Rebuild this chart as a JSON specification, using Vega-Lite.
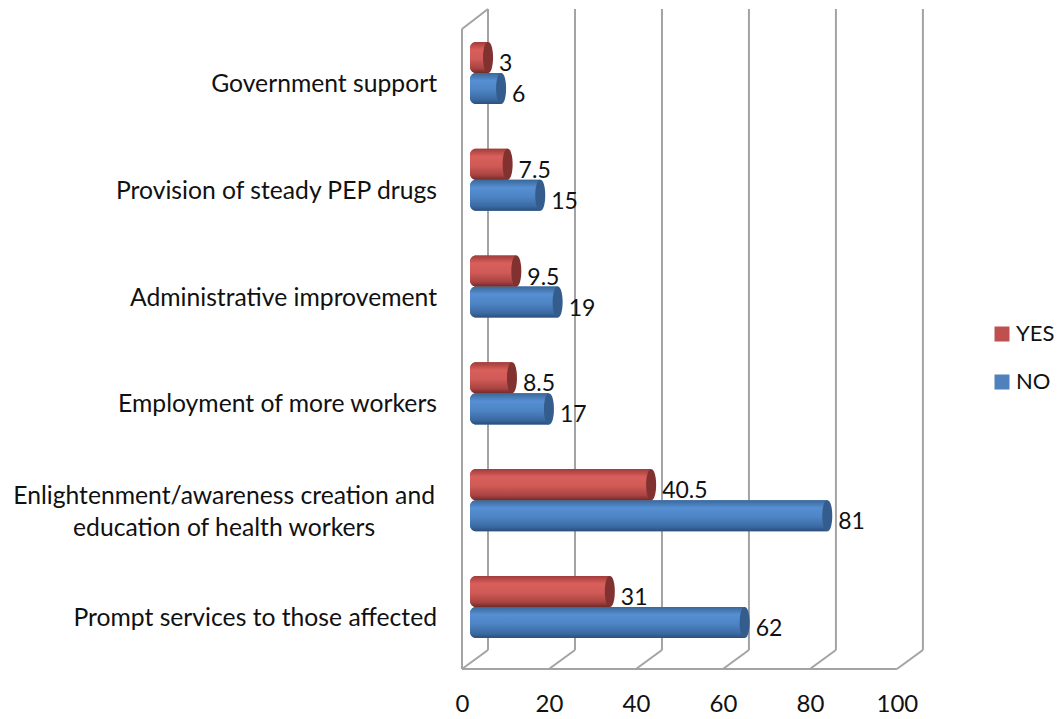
{
  "$schema": "https://vega.github.io/schema/vega-lite/v6.json",
  "width": 461,
  "height": 660,
  "autosize": "none",
  "padding": {"left": 462, "top": 9, "right": 136, "bottom": 50},
  "background": "white",
  "config": {"view": {"stroke": null}, "font": "Lato", "text": {"font": "Lato"}},
  "datasets": {
    "answers": [
      {"category": "Government support", "series": "YES", "value": 3},
      {"category": "Government support", "series": "NO", "value": 6},
      {"category": "Provision of steady PEP drugs", "series": "YES", "value": 7.5},
      {"category": "Provision of steady PEP drugs", "series": "NO", "value": 15},
      {"category": "Administrative improvement", "series": "YES", "value": 9.5},
      {"category": "Administrative improvement", "series": "NO", "value": 19},
      {"category": "Employment of more workers", "series": "YES", "value": 8.5},
      {"category": "Employment of more workers", "series": "NO", "value": 17},
      {"category": "Enlightenment", "series": "YES", "value": 40.5},
      {"category": "Enlightenment", "series": "NO", "value": 81},
      {"category": "Prompt services to those affected", "series": "YES", "value": 31},
      {"category": "Prompt services to those affected", "series": "NO", "value": 62}
    ],
    "frame": [
      {"a": 0, "b": 0, "a2": 100, "b2": 0},
      {"a": 0, "b": 0, "a2": 0, "b2": 640},
      {"a": 0, "b": 640, "a2": 5.98, "b2": 660},
      {"a": 0, "b": 0, "a2": 5.98, "b2": 19},
      {"a": 20, "b": 0, "a2": 25.98, "b2": 19},
      {"a": 40, "b": 0, "a2": 45.98, "b2": 19},
      {"a": 60, "b": 0, "a2": 65.98, "b2": 19},
      {"a": 80, "b": 0, "a2": 85.98, "b2": 19},
      {"a": 100, "b": 0, "a2": 105.98, "b2": 19},
      {"a": 5.98, "b": 19, "a2": 5.98, "b2": 660},
      {"a": 25.98, "b": 19, "a2": 25.98, "b2": 660},
      {"a": 45.98, "b": 19, "a2": 45.98, "b2": 660},
      {"a": 65.98, "b": 19, "a2": 65.98, "b2": 660},
      {"a": 85.98, "b": 19, "a2": 85.98, "b2": 660},
      {"a": 105.98, "b": 19, "a2": 105.98, "b2": 660}
    ],
    "singleLine": [
      {"category": "Government support", "pos": -5.75},
      {"category": "Provision of steady PEP drugs", "pos": -5.75},
      {"category": "Administrative improvement", "pos": -5.75},
      {"category": "Employment of more workers", "pos": -5.75},
      {"category": "Prompt services to those affected", "pos": -5.75}
    ],
    "twoLine": [
      {"category": "Enlightenment", "text": "Enlightenment/awareness creation and|education of health workers", "pos": -54.7}
    ]
  },
  "layer": [
    {
      "description": "Walls and floor of the 3D box, with the value axis along the front edge",
      "data": {"name": "frame"},
      "mark": {"type": "rule", "color": "#a3a3a3", "strokeWidth": 2},
      "encoding": {
        "x": {
          "field": "a", "type": "quantitative",
          "scale": {"domain": [0, 106], "nice": false, "zero": false},
          "axis": {"values": [0, 20, 40, 60, 80, 100], "title": null, "grid": false, "domain": false, "ticks": false, "labelFontSize": 24, "labelColor": "#111111", "labelPadding": 23, "labelFont": "Lato", "labelOverlap": false, "labelFlush": false}
        },
        "x2": {"field": "a2"},
        "y": {"field": "b", "type": "quantitative", "scale": {"domain": [0, 660], "nice": false}, "axis": null},
        "y2": {"field": "b2"}
      }
    },
    {
      "description": "Flat bars that carry the colour legend",
      "data": {"name": "answers"},
      "mark": {"type": "bar", "cornerRadiusTopLeft": 6, "cornerRadiusBottomLeft": 6, "xOffset": 5},
      "encoding": {
        "x": {"field": "value", "type": "quantitative", "scale": {"domain": [-1.84, 104.16], "nice": false, "zero": false}, "axis": null},
        "x2": {"datum": 0},
        "y": {"field": "category", "type": "nominal", "axis": null, "scale": {"type": "band", "domain": ["Government support", "Provision of steady PEP drugs", "Administrative improvement", "Employment of more workers", "Enlightenment", "Prompt services to those affected"], "paddingInner": 0, "paddingOuter": 0.09, "align": 0.55}},
        "yOffset": {"field": "series", "type": "nominal", "scale": {"type": "band", "domain": ["YES", "NO"], "paddingInner": 0, "paddingOuter": 0.72}},
        "color": {
          "field": "series", "type": "nominal",
          "scale": {"domain": ["YES", "NO"], "range": ["#c0504d", "#4f81bd"]},
          "legend": {"title": null, "orient": "none", "legendX": 529, "legendY": 314, "symbolType": "square", "symbolSize": 225, "symbolStrokeWidth": 0, "labelFontSize": 22, "labelFont": "Lato", "labelColor": "#111111", "labelOffset": 3, "rowPadding": 26}
        }
      }
    },
    {
      "description": "Shaded cylinder body of the NO bars",
      "data": {"name": "answers"},
      "transform": [{"filter": "datum.series === 'NO'"}],
      "mark": {
        "type": "bar", "cornerRadiusTopLeft": 6, "cornerRadiusBottomLeft": 6, "xOffset": 5,
        "fill": {"gradient": "linear", "x1": 0, "y1": 0, "x2": 0, "y2": 1, "stops": [
          {"offset": 0, "color": "#3a6799"},
          {"offset": 0.25, "color": "#568fd3"},
          {"offset": 0.55, "color": "#4d84c4"},
          {"offset": 0.85, "color": "#3b6aa3"},
          {"offset": 1, "color": "#2b4f7c"}
        ]}
      },
      "encoding": {
        "x": {"field": "value", "type": "quantitative", "scale": {"domain": [-1.84, 104.16], "nice": false, "zero": false}, "axis": null},
        "x2": {"datum": 0},
        "y": {"field": "category", "type": "nominal", "axis": null, "scale": {"type": "band", "domain": ["Government support", "Provision of steady PEP drugs", "Administrative improvement", "Employment of more workers", "Enlightenment", "Prompt services to those affected"], "paddingInner": 0, "paddingOuter": 0.09, "align": 0.55}},
        "yOffset": {"field": "series", "type": "nominal", "scale": {"type": "band", "domain": ["YES", "NO"], "paddingInner": 0, "paddingOuter": 0.72}}
      }
    },
    {
      "description": "Shaded cylinder body of the YES bars",
      "data": {"name": "answers"},
      "transform": [{"filter": "datum.series === 'YES'"}],
      "mark": {
        "type": "bar", "cornerRadiusTopLeft": 6, "cornerRadiusBottomLeft": 6, "xOffset": 5,
        "fill": {"gradient": "linear", "x1": 0, "y1": 0, "x2": 0, "y2": 1, "stops": [
          {"offset": 0, "color": "#a03c3a"},
          {"offset": 0.25, "color": "#d95f5b"},
          {"offset": 0.55, "color": "#cf5a56"},
          {"offset": 0.85, "color": "#a84341"},
          {"offset": 1, "color": "#6f2b29"}
        ]}
      },
      "encoding": {
        "x": {"field": "value", "type": "quantitative", "scale": {"domain": [-1.84, 104.16], "nice": false, "zero": false}, "axis": null},
        "x2": {"datum": 0},
        "y": {"field": "category", "type": "nominal", "axis": null, "scale": {"type": "band", "domain": ["Government support", "Provision of steady PEP drugs", "Administrative improvement", "Employment of more workers", "Enlightenment", "Prompt services to those affected"], "paddingInner": 0, "paddingOuter": 0.09, "align": 0.55}},
        "yOffset": {"field": "series", "type": "nominal", "scale": {"type": "band", "domain": ["YES", "NO"], "paddingInner": 0, "paddingOuter": 0.72}}
      }
    },
    {
      "description": "Darker elliptical end cap of every cylinder",
      "data": {"name": "answers"},
      "mark": {
        "type": "point", "filled": true, "opacity": 1, "size": 961, "xOffset": 5, "strokeWidth": 0,
        "shape": "M0,-1C0.43,-1 0.43,1 0,1C-0.43,1 -0.43,-1 0,-1Z"
      },
      "encoding": {
        "x": {"field": "value", "type": "quantitative", "scale": {"domain": [-1.84, 104.16], "nice": false, "zero": false}, "axis": null},
        "y": {"field": "category", "type": "nominal", "axis": null, "scale": {"type": "band", "domain": ["Government support", "Provision of steady PEP drugs", "Administrative improvement", "Employment of more workers", "Enlightenment", "Prompt services to those affected"], "paddingInner": 0, "paddingOuter": 0.09, "align": 0.55}},
        "yOffset": {"field": "series", "type": "nominal", "scale": {"type": "band", "domain": ["YES", "NO"], "paddingInner": 0, "paddingOuter": 0.72}},
        "fill": {"condition": {"test": "datum.series === 'YES'", "value": "#813230"}, "value": "#345d8e"}
      }
    },
    {
      "description": "Value labels beside each cylinder",
      "data": {"name": "answers"},
      "mark": {"type": "text", "align": "left", "baseline": "middle", "dx": 16, "dy": 6.5, "fontSize": 23, "font": "Lato", "color": "#111111"},
      "encoding": {
        "x": {"field": "value", "type": "quantitative", "scale": {"domain": [-1.84, 104.16], "nice": false, "zero": false}, "axis": null},
        "y": {"field": "category", "type": "nominal", "axis": null, "scale": {"type": "band", "domain": ["Government support", "Provision of steady PEP drugs", "Administrative improvement", "Employment of more workers", "Enlightenment", "Prompt services to those affected"], "paddingInner": 0, "paddingOuter": 0.09, "align": 0.55}},
        "yOffset": {"field": "series", "type": "nominal", "scale": {"type": "band", "domain": ["YES", "NO"], "paddingInner": 0, "paddingOuter": 0.72}},
        "text": {"field": "value", "type": "quantitative"}
      }
    },
    {
      "description": "Category names on one line, right aligned",
      "data": {"name": "singleLine"},
      "mark": {"type": "text", "align": "right", "baseline": "middle", "dy": 12, "fontSize": 24.7, "font": "Lato", "color": "#111111"},
      "encoding": {
        "x": {"field": "pos", "type": "quantitative", "scale": {"domain": [0, 106], "nice": false, "zero": false}, "axis": null},
        "y": {"field": "category", "type": "nominal", "axis": null, "scale": {"type": "band", "domain": ["Government support", "Provision of steady PEP drugs", "Administrative improvement", "Employment of more workers", "Enlightenment", "Prompt services to those affected"], "paddingInner": 0, "paddingOuter": 0.09, "align": 0.55}},
        "text": {"field": "category", "type": "nominal"}
      }
    },
    {
      "description": "The one category name that wraps, with its lines centred",
      "data": {"name": "twoLine"},
      "mark": {"type": "text", "align": "center", "baseline": "middle", "dy": -3, "fontSize": 24.7, "font": "Lato", "color": "#111111", "lineBreak": "|", "lineHeight": 32},
      "encoding": {
        "x": {"field": "pos", "type": "quantitative", "scale": {"domain": [0, 106], "nice": false, "zero": false}, "axis": null},
        "y": {"field": "category", "type": "nominal", "axis": null, "scale": {"type": "band", "domain": ["Government support", "Provision of steady PEP drugs", "Administrative improvement", "Employment of more workers", "Enlightenment", "Prompt services to those affected"], "paddingInner": 0, "paddingOuter": 0.09, "align": 0.55}},
        "text": {"field": "text", "type": "nominal"}
      }
    }
  ],
  "resolve": {"scale": {"x": "independent", "y": "independent", "yOffset": "independent", "color": "independent", "fill": "independent"}, "axis": {"x": "independent"}}
}
